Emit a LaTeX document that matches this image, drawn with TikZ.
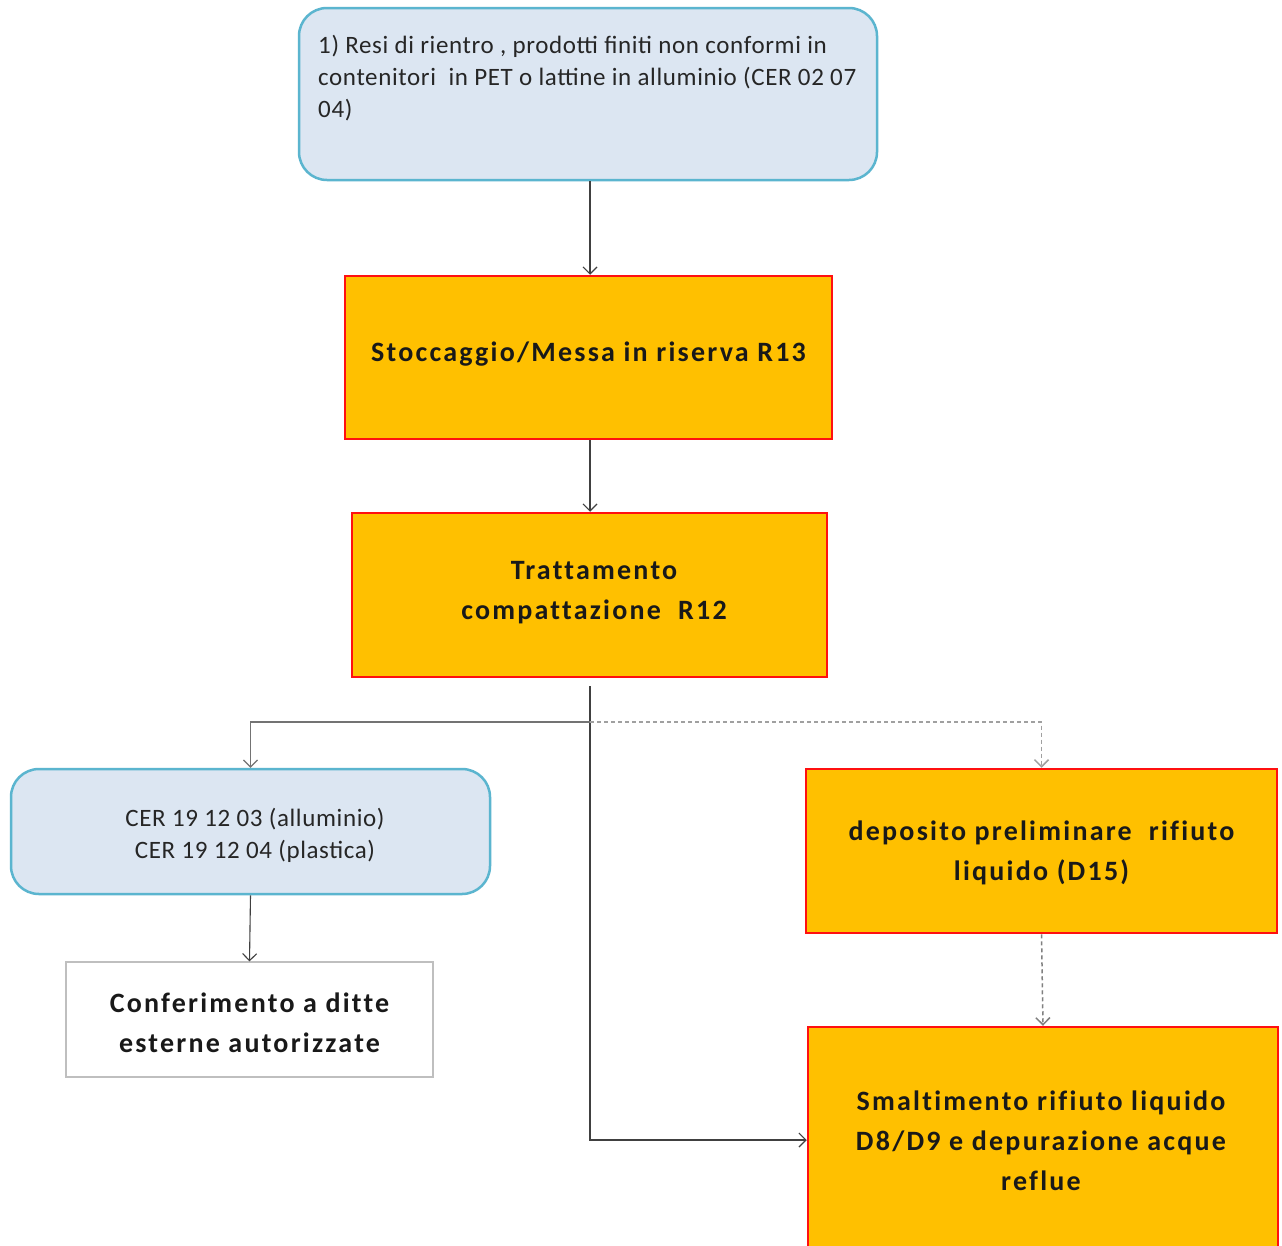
\documentclass[tikz,border=0pt]{standalone}
\usepackage{fontspec}
\setmainfont{Carlito}
\newfontfamily\wideb{Carlito}[LetterSpace=8,Ligatures=NoCommon]
\newfontfamily\wider{Carlito}[LetterSpace=2.5]
\usetikzlibrary{arrows.meta}
\definecolor{bfill}{HTML}{DCE6F2}
\definecolor{bline}{HTML}{5BB5CF}
\definecolor{ofill}{HTML}{FFC000}
\definecolor{oline}{HTML}{FF1010}
\definecolor{cline}{HTML}{404040}
\definecolor{dline}{HTML}{A0A0A0}
\tikzset{
  bluebox/.style={draw=bline, line width=2.5pt, fill=bfill, rounded corners=28pt, inner sep=0pt},
  orangebox/.style={draw=oline, line width=2.5pt, fill=ofill, inner sep=0pt},
  whitebox/.style={draw=black!25, line width=1.2pt, fill=white, inner sep=0pt},
  otext/.style={font=\wideb\bfseries\fontsize{28}{40}\selectfont, align=center, text=black!90},
  btext/.style={font=\wider\fontsize{25}{32}\selectfont, align=center, text=black!85},
  conn/.style={draw=cline, line width=1.1pt, -{Straight Barb[length=7pt,width=14pt]}},
  dconn/.style={draw=dline, line width=1.5pt, dash pattern=on 4pt off 3pt, -{Straight Barb[length=7pt,width=14pt]}},
}
\begin{document}
\begin{tikzpicture}[x=1pt,y=-1pt]
\useasboundingbox (0,0) rectangle (1282,1245);
\clip (0,0) rectangle (1282,1245);
\fill[white] (0,0) rectangle (1282,1245);
% boxes
\node[bluebox, minimum width=578pt, minimum height=172pt] (src) at (588,94) {};
\node[anchor=north west, font=\wider\fontsize{25}{32}\selectfont, align=left, inner sep=0pt, text=black!85] (srct) at (318,35) {1) Resi di rientro , prodotti finiti non conformi in\\contenitori \ in PET o lattine in alluminio (CER 02 07\\04)};
\node[orangebox, minimum width=487pt, minimum height=163pt] (stock) at (588.5,357.5) {};
\node[otext] (stockt) at (588.5,354) {Stoccaggio/Messa in riserva R13};
\node[orangebox, minimum width=475pt, minimum height=164pt] (tratt) at (589.5,595) {};
\node[otext] (trattt) at (594,593) {Trattamento\\compattazione \ R12};
\node[bluebox, minimum width=479pt, minimum height=125pt] (cer) at (250.5,831.5) {};
\node[btext] (cert) at (255,835) {CER 19 12 03 (alluminio)\\CER 19 12 04 (plastica)};
\node[whitebox, minimum width=367pt, minimum height=115pt] (conf) at (249.5,1019.5) {};
\node[otext] (conft) at (249.5,1023) {Conferimento a ditte\\esterne autorizzate};
\node[orangebox, minimum width=471pt, minimum height=164pt] (dep) at (1041.5,851) {};
\node[otext] (dept) at (1041.5,853) {deposito preliminare \ rifiuto\\liquido (D15)};
\node[orangebox, minimum width=470pt, minimum height=226pt] (smalt) at (1043,1140) {};
\node[otext] (smaltt) at (1041,1141) {Smaltimento rifiuto liquido\\D8/D9 e depurazione acque\\reflue};
% connectors
\coordinate (split) at (590,686);
\coordinate (junc) at (590,722);
\draw[conn] (src.south -| junc) -- (stock.north -| junc);
\draw[conn] (stock.south -| junc) -- (tratt.north -| junc);
\draw[conn] (split) -- (split |- smalt.west) -- (smalt.west);
\draw[dconn] (junc) -| (dep.north);
\draw[conn, draw=black!55] (junc) -| (cer.north);
\draw[conn] (cer.south) -- (conf.north);
\draw[dconn, draw=black!50] (dep.south) -- (smalt.north);
\end{tikzpicture}
\end{document}
